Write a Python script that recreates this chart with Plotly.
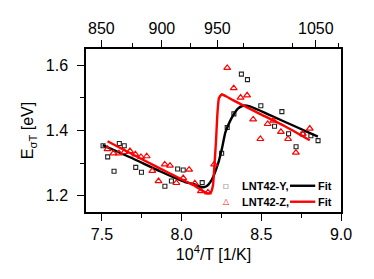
import plotly.graph_objects as go

# ---- data ----
y_x = [7.507, 7.536, 7.576, 7.609, 7.640, 7.712, 7.748, 7.895, 7.936, 7.975, 8.010,
       8.129, 8.251, 8.286, 8.328, 8.375, 8.413, 8.497, 8.583, 8.629, 8.671, 8.718,
       8.761, 8.811, 8.856]
y_e = [1.353, 1.319, 1.275, 1.360, 1.353, 1.287, 1.272, 1.229, 1.245, 1.282, 1.279,
       1.240, 1.330, 1.409, 1.451, 1.573, 1.556, 1.476, 1.413, 1.458, 1.390, 1.350,
       1.389, 1.384, 1.369]

z_x = [7.535, 7.572, 7.607, 7.640, 7.676, 7.710, 7.745, 7.781, 7.816, 7.855, 7.894,
       7.927, 7.967, 8.010, 8.047, 8.083, 8.121, 8.165, 8.204, 8.286, 8.327, 8.370,
       8.411, 8.449, 8.494, 8.540, 8.576, 8.623, 8.668, 8.717, 8.761, 8.804]
z_e = [1.343, 1.330, 1.330, 1.334, 1.337, 1.327, 1.319, 1.321, 1.276, 1.245, 1.296,
       1.292, 1.239, 1.254, 1.280, 1.238, 1.214, 1.210, 1.296, 1.592, 1.530, 1.501,
       1.508, 1.434, 1.374, 1.420, 1.430, 1.396, 1.374, 1.332, 1.390, 1.406]

fit_y_x = [7.505, 7.676, 7.864, 8.021, 8.083, 8.125, 8.152, 8.188, 8.229, 8.253, 8.275,
           8.303, 8.328, 8.353, 8.384, 8.428, 8.554, 8.710, 8.855]
fit_y_e = [1.355, 1.318, 1.275, 1.242, 1.235, 1.226, 1.228, 1.248, 1.299, 1.345, 1.395,
           1.428, 1.450, 1.467, 1.476, 1.474, 1.447, 1.413, 1.381]

fit_z_x = [7.535, 7.739, 7.927, 8.083, 8.134, 8.165, 8.184, 8.197, 8.206, 8.216, 8.224,
           8.234, 8.251, 8.278, 8.322, 8.491, 8.648, 8.804]
fit_z_e = [1.367, 1.315, 1.268, 1.230, 1.214, 1.207, 1.211, 1.233, 1.294, 1.370, 1.447,
           1.499, 1.511, 1.505, 1.493, 1.451, 1.413, 1.370]

top_labels = [850, 900, 950, 1050]
top_minor = [875, 925, 975, 1025, 1075]

series_names = ["LNT42-Y,", "LNT42-Z,"]
fit_name = "Fit"

XMIN, XMAX = 7.40, 9.0
YMIN, YMAX = 1.15, 1.65


def top_pos(t):
    # top scale as drawn in the reference (mirrored 10^4/(T+273.15))
    return XMIN + XMAX - 1e4 / (t + 273.15)


FONT = "Liberation Sans, Arial, sans-serif"
LEG_FONT = dict(family=FONT, size=11, color="black", weight="bold")

fig = go.Figure()
fig.add_trace(go.Scatter(x=y_x, y=y_e, mode="markers", name=series_names[0],
                         marker=dict(symbol="square-open", size=4, color="#222",
                                     line=dict(width=1.1, color="#222")),
                         showlegend=False))
fig.add_trace(go.Scatter(x=fit_y_x, y=fit_y_e, mode="lines", name=fit_name,
                         line=dict(color="black", width=2.4, shape="spline", smoothing=0.6),
                         showlegend=False))
fig.add_trace(go.Scatter(x=z_x, y=z_e, mode="markers", name=series_names[1],
                         marker=dict(symbol="triangle-up-open", size=6, color="red",
                                     line=dict(width=1.2, color="red")),
                         showlegend=False))
fig.add_trace(go.Scatter(x=fit_z_x, y=fit_z_e, mode="lines", name=fit_name,
                         line=dict(color="red", width=2.4, shape="spline", smoothing=0.5),
                         showlegend=False))
# carrier so that the top axis is drawn
fig.add_trace(go.Scatter(x=[None], y=[None], xaxis="x2", yaxis="y", mode="markers",
                         showlegend=False, hoverinfo="skip"))

# legend (two rows: symbol, name, line sample, "Fit")
rows = [(0.161, "black", "□", 6, "#222"), (0.063, "red", "△", 8, "red")]
for (yrow, col, glyph, gsize, gcol), name in zip(rows, series_names):
    fig.add_annotation(xref="paper", yref="paper", x=0.5497, y=yrow, text=glyph,
                       showarrow=False, xanchor="center", yanchor="middle",
                       font=dict(family="DejaVu Sans", size=gsize, color=gcol),
                       borderpad=0)
    fig.add_annotation(xref="paper", yref="paper", x=0.607, y=yrow, text=name,
                       showarrow=False, xanchor="left", yanchor="middle",
                       font=LEG_FONT, borderpad=0)
    fig.add_shape(type="line", xref="paper", yref="paper", x0=0.800, x1=0.899,
                  y0=yrow, y1=yrow, line=dict(color=col, width=2.4))
    fig.add_annotation(xref="paper", yref="paper", x=0.905, y=yrow, text=fit_name,
                       showarrow=False, xanchor="left", yanchor="middle",
                       font=LEG_FONT, borderpad=0)

axis_common = dict(showline=True, linecolor="black", linewidth=1.5, ticks="outside",
                   tickcolor="black", tickwidth=1.2, showgrid=False, zeroline=False,
                   automargin=False,
                   tickfont=dict(family=FONT, size=16, color="black"))

fig.update_layout(
    width=374, height=279,
    margin=dict(l=86, r=33, t=49, b=67),
    paper_bgcolor="white", plot_bgcolor="white",
    font=dict(family=FONT, color="black"),
    xaxis=dict(range=[XMIN, XMAX], tick0=7.5, dtick=0.5, tickformat=".1f", ticklen=7,
               mirror=True, ticklabelstandoff=0,
               minor=dict(ticks="outside", ticklen=4, tick0=7.5, dtick=0.25,
                          tickcolor="black", tickwidth=1.2),
               title=dict(text="10<sup>4</sup>/T [1/K]", font=dict(family=FONT, size=16),
                          standoff=6),
               **axis_common),
    xaxis2=dict(range=[XMIN, XMAX], overlaying="x", side="top", anchor="y",
                tickmode="array", tickvals=[top_pos(t) for t in top_labels],
                ticktext=[str(t) for t in top_labels], ticklen=7, ticklabelstandoff=0,
                minor=dict(ticks="outside", ticklen=4, tickmode="array",
                           tickvals=[top_pos(t) for t in top_minor],
                           tickcolor="black", tickwidth=1.2),
                **axis_common),
    yaxis=dict(range=[YMIN, YMAX], tick0=1.2, dtick=0.2, tickformat=".1f", ticklen=7,
               mirror=True, ticklabelstandoff=6,
               minor=dict(ticks="outside", ticklen=4, tick0=1.2, dtick=0.1,
                          tickcolor="black", tickwidth=1.2),
               title=dict(text="E<sub>σT</sub> [eV]", font=dict(family=FONT, size=16),
                          standoff=8),
               **axis_common),
    showlegend=False,
)

fig.write_html("out.html", config={"displayModeBar": False},
               post_script="document.body.style.margin='0px';"
                           "document.body.style.overflow='hidden';")
